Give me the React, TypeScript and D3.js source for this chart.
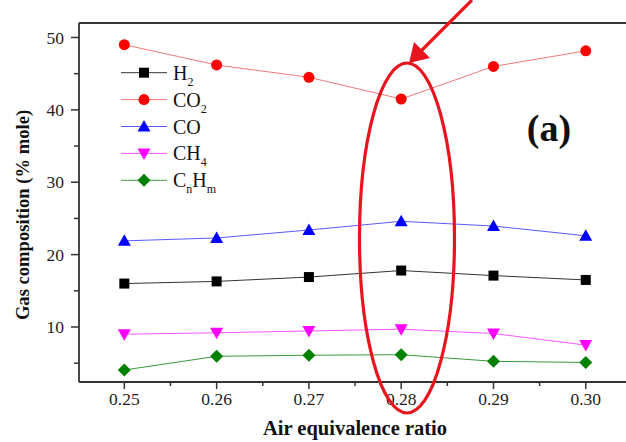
import React from "react";
import * as d3 from "d3";

const ratios = [0.25, 0.26, 0.27, 0.28, 0.29, 0.3];
const h2 = [16.0, 16.3, 16.9, 17.8, 17.1, 16.5];
const co2 = [49.0, 46.2, 44.5, 41.5, 46.0, 48.15];
const co = [21.9, 22.3, 23.4, 24.6, 23.95, 22.6];
const ch4 = [9.0, 9.2, 9.45, 9.7, 9.1, 7.5];
const cnhm = [4.06, 5.95, 6.1, 6.17, 5.26, 5.1];
const xTicks = [0.25, 0.26, 0.27, 0.28, 0.29, 0.3];
const xMinor = [0.255, 0.265, 0.275, 0.285, 0.295];
const yTicks = [10, 20, 30, 40, 50];
const yMinor = [5, 15, 25, 35, 45];

type Series = { name: string; sub: [string, string][]; values: number[]; line: string; fill: string; shape: string };
const series: Series[] = [
  { name: "H2", sub: [["H", ""], ["2", "sub"]], values: h2, line: "#333333", fill: "#000000", shape: "square" },
  { name: "CO2", sub: [["CO", ""], ["2", "sub"]], values: co2, line: "#f07a7a", fill: "#ff0000", shape: "circle" },
  { name: "CO", sub: [["CO", ""]], values: co, line: "#5a5aff", fill: "#0000ff", shape: "triangle" },
  { name: "CH4", sub: [["CH", ""], ["4", "sub"]], values: ch4, line: "#ff55ff", fill: "#ff00ff", shape: "triangledown" },
  { name: "CnHm", sub: [["C", ""], ["n", "sub"], ["H", ""], ["m", "sub"]], values: cnhm, line: "#3a9a3a", fill: "#008000", shape: "diamond" },
];

const font = "Liberation Serif, Times New Roman, Tinos, Times, serif";

function Marker({ shape, x, y, fill }: { shape: string; x: number; y: number; fill: string }) {
  if (shape === "square") return <rect x={x - 5} y={y - 5} width={10} height={10} fill={fill} />;
  if (shape === "circle") return <circle cx={x} cy={y} r={5.5} fill={fill} />;
  if (shape === "triangle") return <path d={`M${x},${y - 6.5}L${x + 6.5},${y + 5}L${x - 6.5},${y + 5}Z`} fill={fill} />;
  if (shape === "triangledown") return <path d={`M${x},${y + 6.5}L${x + 6.5},${y - 5}L${x - 6.5},${y - 5}Z`} fill={fill} />;
  return <path d={`M${x},${y - 6.5}L${x + 6.5},${y}L${x},${y + 6.5}L${x - 6.5},${y}Z`} fill={fill} />;
}

function SubText({ parts, x, y, size }: { parts: [string, string][]; x: number; y: number; size: number }) {
  return (
    <text x={x} y={y} style={{ fontFamily: font }} fontSize={size} fill="#111">
      {parts.map(([t, k], i) =>
        k === "sub" ? (
          <tspan key={i} fontSize={size * 0.6} dy={size * 0.3}>{t}</tspan>
        ) : (
          <tspan key={i} dy={i > 0 && parts[i - 1][1] === "sub" ? -size * 0.3 : 0}>{t}</tspan>
        )
      )}
    </text>
  );
}

export default function App() {
  const W = 626, H = 442;
  const left = 79, top = 23, bottom = 382;
  const x = d3.scaleLinear().domain([0.245, 0.305]).range([78.2, 631.9]);
  const y = d3.scaleLinear().domain([2.4, 52]).range([bottom, top]);
  const line = d3.line<number>().x((_, i) => x(ratios[i])).y((d) => y(d));
  const axisColor = "#333";
  const ts = { fontFamily: font };
  return (
    <svg width={W} height={H} style={{ position: "absolute", left: 0, top: 0, background: "#fff" }}>
      <rect x={0} y={0} width={W} height={H} fill="#fff" />
      <line x1={left} y1={top} x2={W} y2={top} stroke={axisColor} strokeWidth={1.8} />
      <line x1={left} y1={top} x2={left} y2={bottom} stroke={axisColor} strokeWidth={1.8} />
      <line x1={left} y1={bottom} x2={W} y2={bottom} stroke={axisColor} strokeWidth={1.8} />
      {yTicks.map((t) => (
        <g key={"y" + t}>
          <line x1={left - 8} x2={left} y1={y(t)} y2={y(t)} stroke={axisColor} strokeWidth={1.5} />
          <text x={left - 15} y={y(t)} dy="0.35em" textAnchor="end" style={ts} fontSize={17.5} fill="#222">{t}</text>
        </g>
      ))}
      {yMinor.map((t) => (
        <line key={"ym" + t} x1={left - 5} x2={left} y1={y(t)} y2={y(t)} stroke={axisColor} strokeWidth={1.5} />
      ))}
      {xTicks.map((t) => (
        <g key={"x" + t}>
          <line x1={x(t)} x2={x(t)} y1={bottom} y2={bottom + 7} stroke={axisColor} strokeWidth={1.5} />
          <text x={x(t)} y={bottom + 23} textAnchor="middle" style={ts} fontSize={17.5} fill="#222">{t.toFixed(2)}</text>
        </g>
      ))}
      {xMinor.map((t) => (
        <line key={"xm" + t} x1={x(t)} x2={x(t)} y1={bottom} y2={bottom + 4} stroke={axisColor} strokeWidth={1.5} />
      ))}
      <text x={355} y={435} textAnchor="middle" style={ts} fontWeight="bold" fontSize={20.5} fill="#111">Air equivalence ratio</text>
      <text transform={`translate(29,215) rotate(-90)`} textAnchor="middle" style={ts} fontWeight="bold" fontSize={18.6} fill="#111">Gas composition (% mole)</text>
      {series.map((s) => (
        <g key={s.name}>
          <path d={line(s.values) || ""} fill="none" stroke={s.line} strokeWidth={1} />
          {s.values.map((v, i) => (
            <Marker key={i} shape={s.shape} x={x(ratios[i])} y={y(v)} fill={s.fill} />
          ))}
        </g>
      ))}
      {series.map((s, i) => {
        const ly = 72.7 + i * 26.9;
        return (
          <g key={"lg" + s.name}>
            <line x1={121} x2={167} y1={ly} y2={ly} stroke={s.line} strokeWidth={1} />
            <Marker shape={s.shape} x={144} y={ly} fill={s.fill} />
            <SubText parts={s.sub} x={173} y={ly + 7} size={20} />
          </g>
        );
      })}
      <text x={549} y={141} textAnchor="middle" style={ts} fontWeight="bold" fontSize={38} fill="#111">(a)</text>
      <ellipse cx={407} cy={238} rx={47.5} ry={175} fill="none" stroke="#e8141e" strokeWidth={3.2} />
      <line x1={472} y1={0} x2={420} y2={52} stroke="#e8141e" strokeWidth={3.2} />
      <path d="M409,63 L414,42 L430,58 Z" fill="#e8141e" />
    </svg>
  );
}
